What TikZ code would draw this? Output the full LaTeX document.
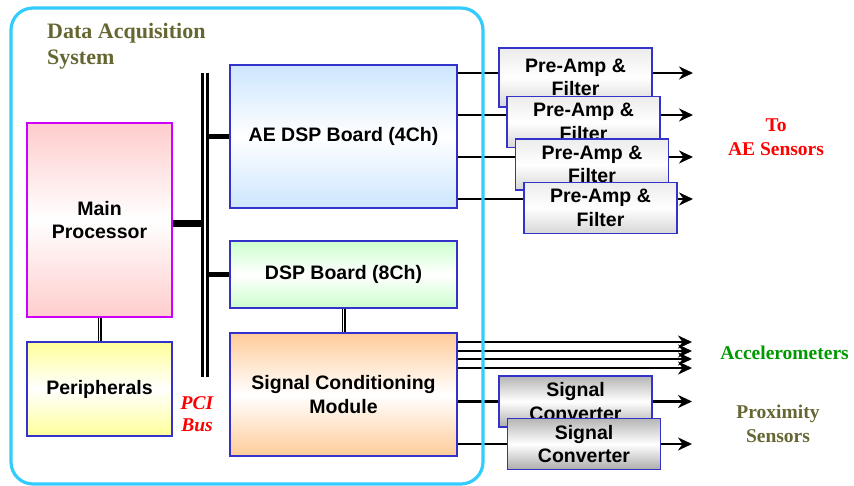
\documentclass[tikz,border=0pt]{standalone}
\usepackage{fontspec}
\setmainfont{Liberation Serif}
\setsansfont{Liberation Sans}
\usetikzlibrary{positioning}
\usetikzlibrary{arrows.meta}
\definecolor{frameblue}{RGB}{51,204,255}
\definecolor{boxblue}{RGB}{51,51,204}
\definecolor{procmag}{RGB}{204,0,255}
\definecolor{olivetxt}{RGB}{102,102,51}
\definecolor{acctxt}{RGB}{0,153,0}
\definecolor{pinkfill}{RGB}{255,204,204}
\definecolor{yellowfill}{RGB}{255,255,153}
\definecolor{bluefill}{RGB}{204,230,255}
\definecolor{greenfill}{RGB}{204,255,204}
\definecolor{orangefill}{RGB}{255,204,153}
\newcommand{\boxfont}{\sffamily\bfseries\fontsize{19.5}{23.5}\selectfont}
\newcommand{\labfont}{\rmfamily\bfseries\fontsize{19.5}{24}\selectfont}
\pgfdeclarelayer{background}
\pgfsetlayers{background,main}

\begin{document}
\begin{tikzpicture}[x=1pt, y=-1pt, >={Stealth[length=14pt,width=13pt,inset=4.5pt]},
block/.style={draw=boxblue, line width=1.6pt, font=\boxfont, align=center, inner sep=0pt, minimum width=227pt},
card/.style={block, minimum width=153pt, minimum height=51pt, top color=gray!15, bottom color=gray!32, middle color=white},
conv/.style={block, minimum width=153pt, minimum height=51pt, top color=gray!58, bottom color=gray!65, middle color=white},
wire/.style={line width=2.4pt},
link/.style={double, line width=1.2pt, double distance=1.6pt},
lab/.style={font=\labfont, align=center, inner sep=0pt}]
\useasboundingbox (0,0) rectangle (854,486);

% frame
\node [draw=frameblue, line width=3.2pt, rounded corners=22pt, minimum width=472pt, minimum height=476pt, inner sep=0pt] (daq) at (247,246) {};
\node [lab, olivetxt, font=\rmfamily\bfseries\fontsize{22}{25.5}\selectfont, align=left, anchor=north west] (title) at (47,23.5) {Data Acquisition\\System};

% boards
\node [block, draw=procmag, line width=2pt, minimum width=145pt, minimum height=194pt, top color=pinkfill, bottom color=pinkfill, middle color=white] (main) at (99.5,220) {Main\\Processor};
\node [block, minimum width=145pt, minimum height=94pt, top color=yellowfill, bottom color=yellowfill, middle color=white] (periph) at (99.5,389) {Peripherals};
\node [block, minimum height=143pt, top color=bluefill, bottom color=bluefill, middle color=white] (ae) at (343.5,136.5) {AE DSP Board (4Ch)};
\node [block, minimum height=67pt, top color=greenfill, bottom color=greenfill, middle color=white] (dsp) at (343.5,274.5) {DSP Board (8Ch)};
\node [block, minimum height=123pt, top color=orangefill, bottom color=orangefill, middle color=white] (sig) at (343.5,394.5) {Signal Conditioning\\Module};

% pre-amps
\node [card, minimum height=59pt] (pre1) at (575.5,77.5) {Pre-Amp \&\\Filter};
\node [card] (pre2) at (583.5,122) {Pre-Amp \&\\Filter};
\node [card] (pre3) at (592,164.5) {Pre-Amp \&\\Filter};
\node [card] (pre4) at (600.5,208) {Pre-Amp \&\\Filter};

% converters
\node [conv] (conv1) at (575.5,401.5) {Signal\\Converter};
\node [conv] (conv2) at (584,444) {Signal\\Converter};

% labels
\node [lab, red] (aelab) at (776,137) {To\\AE Sensors};
\node [lab, acctxt] (acclab) at (784.5,353) {Accelerometers};
\node [lab, olivetxt] (proxlab) at (778,423.5) {Proximity\\Sensors};
\node [lab, red, font=\rmfamily\bfseries\itshape\fontsize{19.5}{22}\selectfont] (pcilab) at (197,414) {PCI\\Bus};

% bus
\coordinate (bustop) at (205,73);
\coordinate (busbot) at (205,377);
\draw [double, line width=3.2pt, double distance=1.8pt] (bustop) -- (busbot);

\begin{pgfonlayer}{background}
\draw [line width=5pt] (bustop |- ae.west) -- (ae.west);
\draw [line width=7pt] (main.east |- 0,224) -- (bustop |- 0,224);
\draw [line width=5pt] (bustop |- dsp.west) -- (dsp.west);
\draw [link] (main) -- (periph);
\draw [link] (dsp) -- (sig);

% outputs
\foreach \y [count=\i] in {73,115,157,199} {
  \coordinate (aeout\i) at (693,\y);
  \draw [wire,->] (ae.east |- aeout\i) -- (aeout\i);
}
\foreach \y [count=\i] in {342,351,359,368} {
  \coordinate (accout\i) at (692,\y);
  \draw [wire,->] (sig.east |- accout\i) -- (accout\i);
}
\coordinate (convout1) at (692,401.5);
\coordinate (convout2) at (692,444);
\draw [wire,->] (sig.east |- conv1) -- (convout1);
\draw [wire,->] (sig.east |- conv2) -- (convout2);
\end{pgfonlayer}
\end{tikzpicture}
\end{document}
